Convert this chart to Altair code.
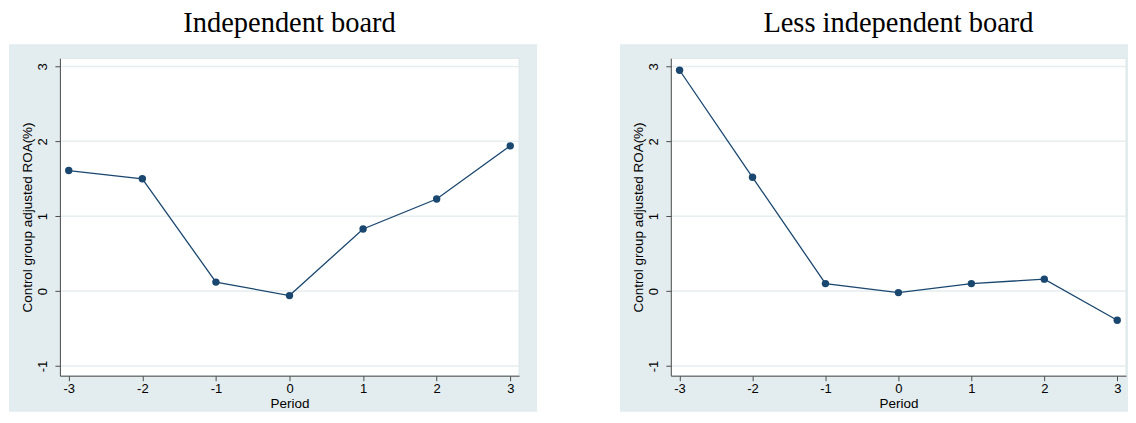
import altair as alt
import pandas as pd

# ---- data ----
periods = [-3, -2, -1, 0, 1, 2, 3]
independent_roa = [1.61, 1.50, 0.12, -0.06, 0.83, 1.23, 1.94]
less_independent_roa = [2.95, 1.52, 0.10, -0.02, 0.10, 0.16, -0.39]
y_ticks = [-1, 0, 1, 2, 3]
x_ticks = [-3, -2, -1, 0, 1, 2, 3]
titles = ["Independent board", "Less independent board"]

# ---- style ----
H = 318
BG = "#e3ecee"
GRID = "#e6eef0"
NAVY = "#1a476f"
AXIS = "#4d4d4d"
SANS = "Liberation Sans"
SERIF = "Liberation Serif"


def panel(values, title, W):
    df = pd.DataFrame({"Period": periods, "ROA": values})
    gdf = pd.DataFrame({"v": y_ticks})
    one = pd.DataFrame({"a": [0]})

    xscale = alt.Scale(domain=[-3.12, 3.12], nice=False, zero=False)
    yscale = alt.Scale(domain=[-1.13, 3.11], nice=False, zero=False)

    xaxis = alt.Axis(
        values=x_ticks, grid=False, title="Period", zindex=1,
        domainColor=AXIS, tickColor=AXIS, tickSize=5, labelPadding=2,
        labelFont=SANS, labelFontSize=13, labelColor="black",
        labelExpr="'' + datum.value",
        titleFont=SANS, titleFontSize=13.5, titleFontWeight="normal",
        titleColor="black", titlePadding=1,
    )
    yaxis = alt.Axis(
        values=y_ticks, grid=False, title="Control group adjusted ROA(%)", zindex=1,
        domainColor=AXIS, tickColor=AXIS, tickSize=5, labelPadding=5,
        labelAngle=-90, labelAlign="center", labelBaseline="bottom",
        labelFont=SANS, labelFontSize=13, labelColor="black",
        labelExpr="'' + datum.value",
        titleFont=SANS, titleFontSize=13.5, titleFontWeight="normal",
        titleColor="black", titlePadding=2,
    )

    bg = alt.Chart(one).mark_rect(fill=BG, clip=False).encode(
        x=alt.value(-51), x2=alt.value(W + 18),
        y=alt.value(-14), y2=alt.value(H + 36),
    )
    white = alt.Chart(one).mark_rect(fill="white", stroke="#dbe5e8", strokeWidth=1).encode(
        x=alt.value(0), x2=alt.value(W), y=alt.value(0), y2=alt.value(H)
    )
    grid = alt.Chart(gdf).mark_rule(color=GRID, strokeWidth=1.5).encode(
        y=alt.Y("v:Q", scale=yscale, axis=yaxis)
    )
    base = alt.Chart(df).encode(
        x=alt.X("Period:Q", scale=xscale, axis=xaxis),
        y=alt.Y("ROA:Q", scale=yscale, axis=yaxis),
    )
    line = base.mark_line(color=NAVY, strokeWidth=1.3)
    pts = base.mark_circle(color=NAVY, size=55, opacity=1)

    return alt.layer(bg, white, grid, line, pts).properties(
        width=W, height=H,
        title=alt.TitleParams(
            text=title, font=SERIF, fontSize=28.5, fontWeight="normal",
            color="black", anchor="middle", frame="group", offset=7,
        ),
    )


chart = alt.hconcat(
    panel(independent_roa, titles[0], 460),
    panel(less_independent_roa, titles[1], 456),
    spacing=152, bounds="flush",
).properties(
    padding={"left": 0, "top": 0, "right": -17, "bottom": 0}
).configure_view(stroke=None).configure(background="white")

chart.save("out.html", embed_options={"renderer": "svg", "actions": False})
